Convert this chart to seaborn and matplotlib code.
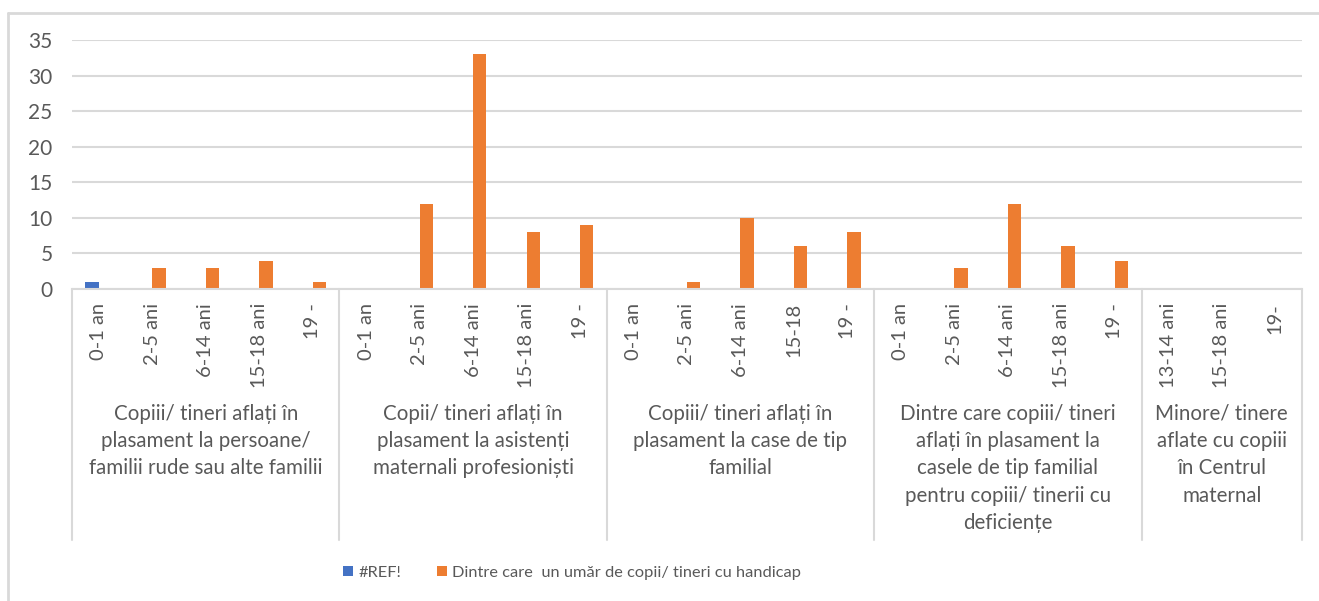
import numpy as np
import pandas as pd
import seaborn as sns
import matplotlib.pyplot as plt
from matplotlib.lines import Line2D
from matplotlib.patches import Patch
import matplotlib.transforms as mtransforms

# group (top level) labels
groups = [
    "Copiii/ tineri aflați în\nplasament la persoane/\nfamilii rude sau alte familii",
    "Copii/ tineri aflați în\nplasament la asistenți\nmaternali profesioniști",
    "Copiii/ tineri aflați în\nplasament la case de tip\nfamilial",
    "Dintre care copiii/ tineri\naflați în plasament la\ncasele de tip familial\npentru copiii/ tinerii cu\ndeficiențe",
    "Minore/ tinere\naflate cu copiii\nîn Centrul\nmaternal",
]
group_ages = [
    ["0-1 an", "2-5 ani", "6-14 ani", "15-18 ani", "19 -"],
    ["0-1 an", "2-5 ani", "6-14 ani", "15-18 ani", "19 -"],
    ["0-1 an", "2-5 ani", "6-14 ani", "15-18", "19 -"],
    ["0-1 an", "2-5 ani", "6-14 ani", "15-18 ani", "19 -"],
    ["13-14 ani", "15-18 ani", "19-"],
]
series_names = ["#REF!", "Dintre care  un umăr de copii/ tineri cu handicap"]
ref_values = [1, 0, 0, 0, 0,
              0, 0, 0, 0, 0,
              0, 0, 0, 0, 0,
              0, 0, 0, 0, 0,
              0, 0, 0]
handicap_values = [0, 3, 3, 4, 1,
                   0, 12, 33, 8, 9,
                   0, 1, 10, 6, 8,
                   0, 3, 12, 6, 4,
                   0, 0, 0]

colors = ["#4472C4", "#ED7D31"]
grey = "#595959"
line_grey = "#D9D9D9"

age_labels = [a for ages in group_ages for a in ages]
n = len(age_labels)
keys = [f"c{i:02d}" for i in range(n)]

df = pd.DataFrame({
    "cat": keys * 2,
    "value": ref_values + handicap_values,
    "serie": [series_names[0]] * n + [series_names[1]] * n,
})

sns.set_theme(style="white")
plt.rcParams["font.family"] = ["Lato", "DejaVu Sans"]

W, H = 1319, 601
fig = plt.figure(figsize=(W / 100, H / 100), dpi=100)
ax = fig.add_axes([72 / W, 1 - 289 / H, (1302 - 72) / W, (289 - 40) / H])

sns.barplot(data=df, x="cat", y="value", hue="serie", order=keys,
            hue_order=series_names, palette=colors, width=0.5,
            linewidth=0, saturation=1, ax=ax, legend=False)

ax.set_xlim(-0.5, n - 0.5)
ax.set_ylim(0, 35)
ax.set_yticks(range(0, 36, 5))
ax.yaxis.grid(True, color=line_grey, linewidth=1.5)
ax.set_axisbelow(True)
for s in ["left", "right", "top"]:
    ax.spines[s].set_visible(False)
ax.spines["bottom"].set_color(line_grey)
ax.spines["bottom"].set_linewidth(1.5)
ax.set_xlabel("")
ax.set_ylabel("")
ax.set_xticks(range(n))
ax.set_xticklabels(age_labels, rotation=90, fontsize=14.5, color=grey)
ax.tick_params(axis="x", length=0, pad=10)
ax.tick_params(axis="y", length=0, pad=14, labelsize=15, labelcolor=grey)

# group separators and group labels
ax_h = 289 - 40
ymin_sep = (289 - 540) / ax_h
bounds = np.cumsum([0] + [len(a) for a in group_ages]) - 0.5
for b in bounds:
    ax.axvline(b, ymin=ymin_sep, ymax=0, color=line_grey, linewidth=1.5, clip_on=False)
trans = mtransforms.blended_transform_factory(ax.transData, fig.transFigure)
for g, lo, hi in zip(groups, bounds[:-1], bounds[1:]):
    ax.text((lo + hi) / 2, 1 - 404 / H, g, transform=trans, ha="center", va="top",
            fontsize=14.8, color=grey, linespacing=1.45)

# legend
handles = [Patch(facecolor=c, edgecolor="none") for c in colors]
fig.legend(handles, series_names, loc="center", bbox_to_anchor=(572 / W, 1 - 573 / H),
           ncol=2, frameon=False, fontsize=11.8, labelcolor=grey, handlelength=0.6,
           handleheight=0.6, handletextpad=0.3, columnspacing=2.2)

# outer chart frame (partly cropped)
fig.add_artist(Line2D([8 / W, 8 / W], [0, 1 - 13 / H], color=line_grey, linewidth=2,
                      transform=fig.transFigure))
fig.add_artist(Line2D([8 / W, 1], [1 - 13 / H, 1 - 13 / H], color=line_grey, linewidth=2,
                      transform=fig.transFigure))

fig.savefig("out.png", dpi=100)
